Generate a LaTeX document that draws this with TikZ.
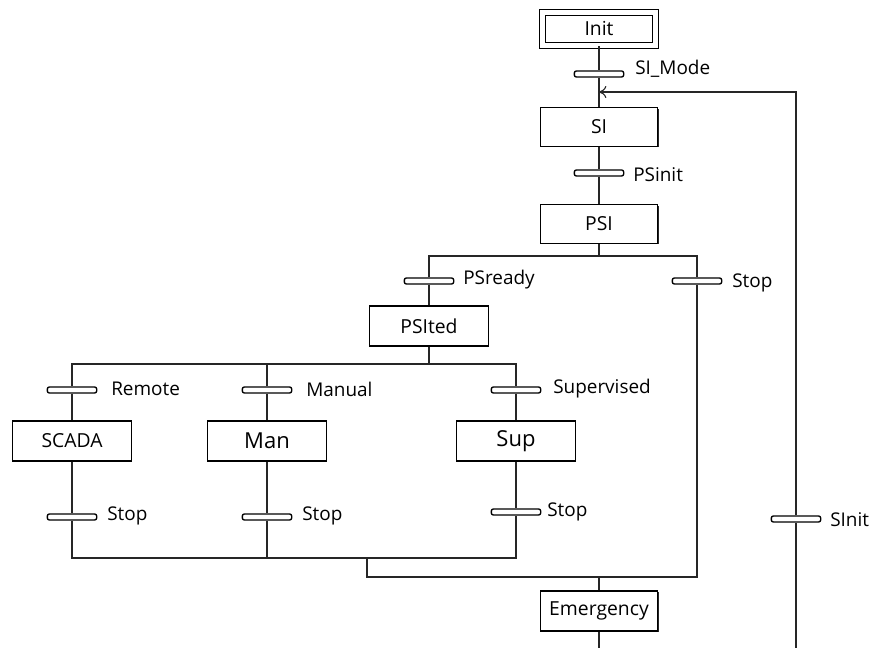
\documentclass[tikz,border=0pt]{standalone}
\usepackage{fontspec}
\setmainfont{Open Sans}
\usetikzlibrary{calc,shadows,arrows,arrows.meta}
\usetikzlibrary{positioning}

\tikzset{
  stepbox/.style={draw=black, line width=1pt, fill=white, inner sep=0pt,
    minimum width=88pt, minimum height=29pt,
    drop shadow={shadow xshift=0.8pt, shadow yshift=-0.8pt, fill=black!85, opacity=1},
    font=\fontsize{14.5}{16}\selectfont},
  initbox/.style={draw=black, line width=0.8pt, double=white, double distance=3.3pt,
    fill=white, inner sep=0pt, minimum width=85pt, minimum height=25pt,
    font=\fontsize{14.5}{16}\selectfont},
  bigtext/.style={font=\fontsize{16.5}{18}\selectfont},
  trans/.style={draw=black, line width=1pt, fill=white, rounded corners=1.5pt,
    inner sep=0pt, minimum width=37pt, minimum height=4.5pt},
  cond/.style={anchor=west, inner sep=0pt, font=\fontsize{14.2}{16}\selectfont},
  link/.style={draw=black!85, line width=0.8pt}
}

\begin{document}
\begin{tikzpicture}[x=0.75pt, y=-0.75pt]

  \useasboundingbox (0,0) rectangle (871,648);

  % steps
  \node[initbox] (Init) at (599,29) {Init};
  \node[stepbox] (SI) at (599,127) {SI};
  \node[stepbox] (PSI) at (599,224) {PSI};
  \node[stepbox, minimum width=89pt, minimum height=30pt] (PSIted) at (429,326) {PSIted};
  \node[stepbox, minimum width=89pt, minimum height=30pt] (SCADA) at (72,441) {SCADA};
  \node[stepbox, bigtext, minimum width=89pt, minimum height=30pt] (Man) at (267,441) {Man};
  \node[stepbox, bigtext, minimum width=89pt, minimum height=30pt] (Sup) at (516,441) {Sup};
  \node[stepbox, minimum height=30pt] (Emergency) at (599,611) {Emergency};

  % transitions
  \node[trans] (tMode) at (599,74) {};
  \node[trans] (tPSinit) at (599,173) {};
  \node[trans] (tReady) at (429,281) {};
  \node[trans] (tStop) at (697,281) {};
  \node[trans] (tRemote) at (72,390) {};
  \node[trans] (tManual) at (267,390) {};
  \node[trans] (tSuper) at (516,390) {};
  \node[trans] (tStopA) at (72,517) {};
  \node[trans] (tStopB) at (267,517) {};
  \node[trans] (tStopC) at (516,512) {};
  \node[trans] (tSInit) at (796,519) {};

  % receptivities
  \node[cond] (lMode) at (635,69) {SI\_Mode};
  \node[cond] (lPSinit) at (633,175) {PSinit};
  \node[cond] (lReady) at (463,280) {PSready};
  \node[cond] (lStop) at (732,283) {Stop};
  \node[cond] (lRemote) at (111,389) {Remote};
  \node[cond] (lManual) at (306,389) {Manual};
  \node[cond] (lSuper) at (553,389) {Supervised};
  \node[cond] (lStopA) at (107,516) {Stop};
  \node[cond] (lStopB) at (302,516) {Stop};
  \node[cond] (lStopC) at (547,512) {Stop};
  \node[cond] (lSInit) at (830,520) {SInit};

  % junction points
  \coordinate (brA) at (599,256);
  \coordinate (brB) at (429,364);
  \coordinate (joinA) at (367,558);
  \coordinate (joinB) at (367,577);
  \coordinate (loopTop) at (796,92);
  \coordinate (loopBot) at (796,648);
  \coordinate (endBot) at (599,648);

  % main sequence
  \draw[link] (Init) -- (tMode) -- (SI) -- (tPSinit) -- (PSI);
  \draw[link] (PSI) -- (brA);
  \draw[link] (tReady) |- (brA) -| (tStop);
  \draw[link] (tReady) -- (PSIted);
  \draw[link] (PSIted) -- (brB);
  \draw[link] (tRemote) |- (brB) -| (tSuper);
  \draw[link] (tManual) -- (tManual |- brB);

  % three modes
  \draw[link] (tRemote) -- (SCADA) -- (tStopA);
  \draw[link] (tManual) -- (Man) -- (tStopB);
  \draw[link] (tSuper) -- (Sup) -- (tStopC);
  \draw[link] (tStopA) |- (joinA) -| (tStopC);
  \draw[link] (tStopB) -- (tStopB |- joinA);

  % towards emergency
  \draw[link] (joinA) -- (joinB) -| (tStop);
  \draw[link] (Emergency) -- (Emergency |- joinB);
  \draw[link] (Emergency) -- (endBot);

  % loop back to SI
  \draw[link] (loopBot) -- (tSInit);
  \draw[link, ->, >={To[length=5.5pt, width=9pt]}] (tSInit) |- (SI.north |- loopTop);

\end{tikzpicture}
\end{document}
